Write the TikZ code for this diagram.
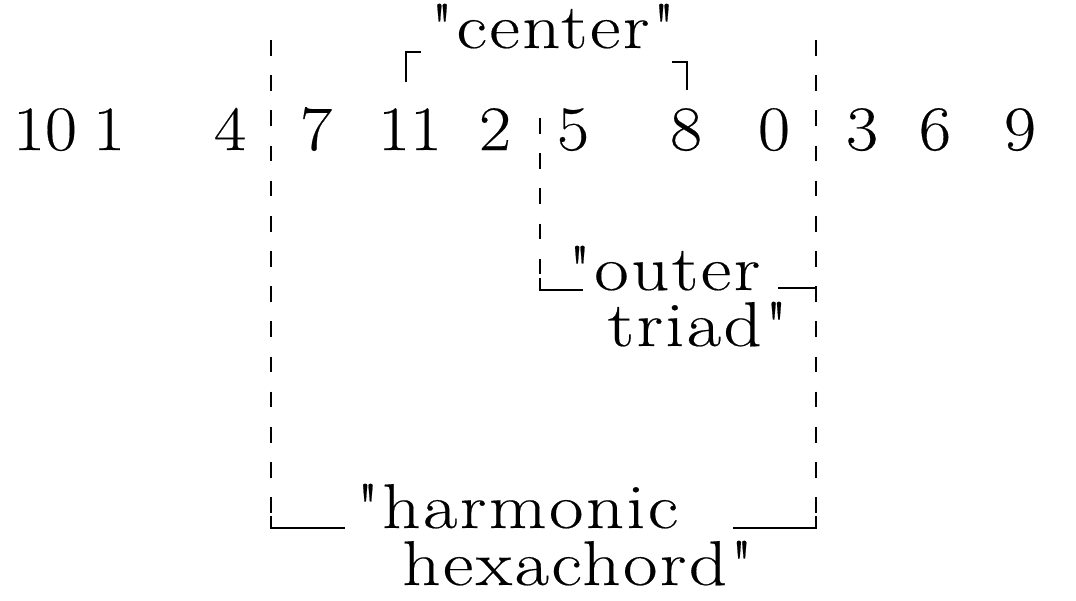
\documentclass[tikz,border=0pt]{standalone}
\usepackage{fontspec}
\setmainfont{Latin Modern Roman}[Ligatures=TeXOff]
\usepackage{tikz}
\usetikzlibrary{positioning}

\tikzset{
  pc/.style={anchor=base, inner sep=0pt,
    font=\fontsize{18}{22}\selectfont\addfontfeatures{FakeStretch=1.1,FakeBold=0.3}},
  lbl/.style={anchor=base, inner sep=0pt,
    font=\fontsize{18}{22}\selectfont\addfontfeatures{FakeStretch=1.18,LetterSpace=4,FakeBold=0.3}},
  sep/.style={line width=0.7pt, dash pattern=on 4.5pt off 5.5pt},
  brk/.style={line width=0.7pt},
}

\begin{document}
\begin{tikzpicture}[x=0.01cm,y=-0.01cm]
\useasboundingbox (0,0) rectangle (1076,600);

% the row of pitch classes
\foreach \n/\x in {10/45, 1/109, 4/230, 7/316, 11/410, 2/495,
                   5/573, 8/686, 0/774, 3/862, 6/935, 9/1020}
  \node[pc] (p\n) at (\x,150) {\n};

% labels
\node[lbl] (ctr) at (553,48) {"center"};
\node[lbl] (outer) at (664,290) {"outer};
\node[lbl] (triad) at (698,346) {triad"};
\node[lbl] (harm) at (517,528) {"harmonic};
\node[lbl] (hexa) at (578,585) {hexachord"};

% dashed separators
\coordinate (lt) at (271,40);
\coordinate (lb) at (271,528);
\coordinate (rt) at (816,40);
\coordinate (rb) at (816,528);
\coordinate (mt) at (540,118);
\coordinate (mb) at (540,290);
\draw[sep] (lt) -- (lb);
\draw[sep] (rt) -- (rb);
\draw[sep] (mt) -- (mb);

% brackets
\draw[brk] (406,82) -- (406,52) -- (421,52);
\draw[brk] (672,62) -- (687,62) -- (687,90);
\draw[brk] (mb) ++(0,-12) -- (mb) -- (583,290);
\draw[brk] (778,288) -- (816,288);
\draw[brk] (lb) ++(0,-12) -- (lb) -- (345,528);
\draw[brk] (733,528) -- (rb) -- ++(0,-12);

\end{tikzpicture}
\end{document}
